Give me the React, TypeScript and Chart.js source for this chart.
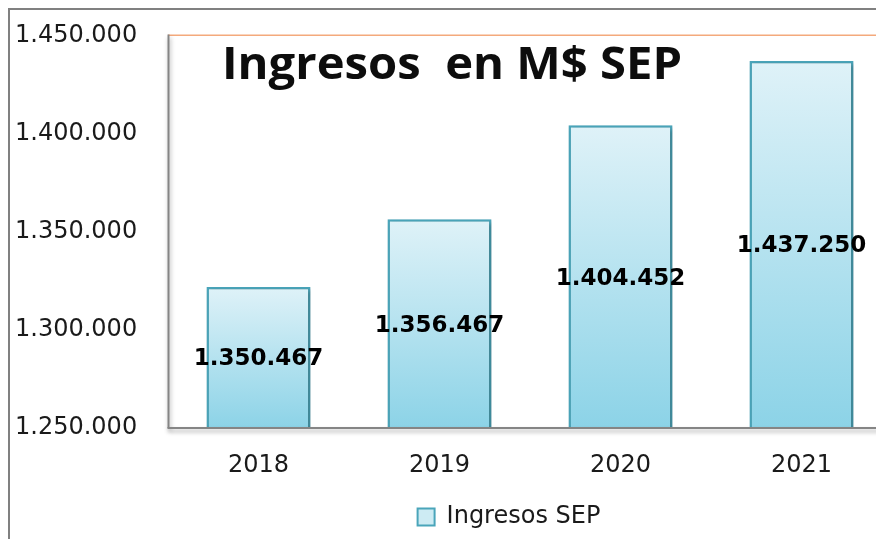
import { useEffect, useRef } from "react";
import { Chart, registerables } from "chart.js";

Chart.register(...registerables);

const categories = ["2018", "2019", "2020", "2021"];
const seriesName = "Ingresos SEP";
const barValues = [1322000, 1356467, 1404452, 1437250];
const barLabels = ["1.350.467", "1.356.467", "1.404.452", "1.437.250"];
const yTicks = [1250000, 1300000, 1350000, 1400000, 1450000];
const titleText = "Ingresos  en M$ SEP";

function fmt(v: number): string {
  return String(Math.round(v)).replace(/\B(?=(\d{3})+(?!\d))/g, ".");
}

const decor = {
  id: "decor",
  beforeDraw(chart: any) {
    const { ctx, width, height } = chart;
    ctx.save();
    ctx.fillStyle = "#ffffff";
    ctx.fillRect(0, 0, width, height);
    ctx.restore();
  },
  beforeDatasetsDraw(chart: any) {
    const ctx = chart.ctx;
    ctx.save();
    ctx.shadowColor = "rgba(0,0,0,0.28)";
    ctx.shadowBlur = 4;
    ctx.shadowOffsetX = 2;
    ctx.shadowOffsetY = 2;
  },
  afterDatasetsDraw(chart: any) {
    const { ctx, chartArea: a } = chart;
    ctx.restore();
    // plot area lines
    ctx.save();
    ctx.fillStyle = "#f4a97c";
    ctx.fillRect(a.left, a.top - 1.5, a.right - a.left, 1.5);
    ctx.shadowColor = "rgba(0,0,0,0.35)";
    ctx.shadowBlur = 4;
    ctx.shadowOffsetX = 1;
    ctx.shadowOffsetY = 3;
    ctx.fillStyle = "#858585";
    ctx.fillRect(a.left - 0.5, a.top - 1.5, 2, a.bottom - a.top + 1.5);
    ctx.fillRect(a.left - 0.5, a.bottom - 1, a.right - a.left + 0.5, 2);
    ctx.restore();
    // data labels, centred in each bar
    const meta = chart.getDatasetMeta(0);
    ctx.save();
    ctx.font = "bold 23px 'DejaVu Sans'";
    ctx.fillStyle = "#000000";
    ctx.textAlign = "center";
    ctx.textBaseline = "middle";
    meta.data.forEach((el: any, i: number) => {
      const base = Math.min(el.base, a.bottom);
      ctx.fillText(barLabels[i], el.x, (el.y + base) / 2 + 2);
    });
    ctx.restore();
  },
  afterDraw(chart: any) {
    const { ctx, width, height } = chart;
    ctx.save();
    ctx.fillStyle = "#808080";
    ctx.fillRect(0, 0, width, 2);
    ctx.fillRect(0, 0, 2, height);
    ctx.font = "bold 45px 'Open Sans'";
    ctx.fillStyle = "#0d0d0d";
    ctx.textAlign = "left";
    ctx.textBaseline = "alphabetic";
    const w = ctx.measureText(titleText).width;
    ctx.translate(214, 71);
    ctx.scale(460 / w, 1);
    ctx.fillText(titleText, 0, 0);
    ctx.restore();
  },
};

function barFill(c: any) {
  const chart = c.chart;
  const area = chart.chartArea;
  if (c.type !== "data" || !area || !chart.scales.y) return "#cdebf3";
  const top = chart.scales.y.getPixelForValue(c.parsed ? c.parsed.y : barValues[c.dataIndex]);
  const g = chart.ctx.createLinearGradient(0, top, 0, area.bottom);
  g.addColorStop(0, "#dff2f8");
  g.addColorStop(1, "#8cd3e7");
  return g;
}

export default function App() {
  const ref = useRef<HTMLCanvasElement | null>(null);
  useEffect(() => {
    if (!ref.current) return;
    const chart = new Chart(ref.current, {
      type: "bar",
      data: {
        labels: categories,
        datasets: [
          {
            label: seriesName,
            data: barValues,
            backgroundColor: barFill,
            borderColor: "#4aa5ba",
            borderWidth: 2.5,
            borderSkipped: false,
            barPercentage: 0.575,
            categoryPercentage: 1,
          },
        ],
      },
      options: {
        responsive: false,
        animation: false,
        devicePixelRatio: 1,
        font: { family: "'DejaVu Sans'" },
        layout: { padding: { left: 7, right: 0, top: 28, bottom: 0 } },
        plugins: {
          title: { display: false },
          tooltip: { enabled: false },
          legend: {
            display: true,
            position: "bottom",
            labels: {
              boxWidth: 17,
              boxHeight: 17,
              padding: 10,
              color: "#1a1a1a",
              font: { family: "'DejaVu Sans'", size: 24 },
              generateLabels: (chart: any) =>
                Chart.defaults.plugins.legend.labels
                  .generateLabels(chart)
                  .map((l: any) => ({ ...l, fillStyle: "#cdebf3", strokeStyle: "#4aa5ba", lineWidth: 2 })),
            },
          },
        },
        scales: {
          x: {
            grid: { display: false, drawTicks: false },
            border: { display: false },
            ticks: {
              color: "#1a1a1a",
              padding: 23,
              font: { family: "'DejaVu Sans'", size: 24 },
            },
            afterFit: (s: any) => {
              s.height = 67;
            },
          },
          y: {
            min: yTicks[0],
            max: yTicks[yTicks.length - 1],
            grid: { display: false, drawTicks: false },
            border: { display: false },
            ticks: {
              stepSize: yTicks[1] - yTicks[0],
              color: "#1a1a1a",
              padding: 0,
              crossAlign: "far",
              font: { family: "'DejaVu Sans'", size: 24 },
              callback: (v: any) => fmt(Number(v)),
            },
            afterFit: (s: any) => {
              s.width = 153;
            },
          },
          yR: {
            type: "linear",
            position: "right",
            display: true,
            grid: { display: false, drawTicks: false },
            border: { display: false },
            ticks: { display: false, padding: 0 },
            afterFit: (s: any) => {
              s.width = 111;
            },
          },
        },
      },
      plugins: [decor],
    } as any);
    return () => chart.destroy();
  }, []);
  return (
    <div style={{ width: 876, height: 531, overflow: "hidden" }}>
      <canvas ref={ref} width={995} height={531} style={{ display: "block" }} />
    </div>
  );
}
